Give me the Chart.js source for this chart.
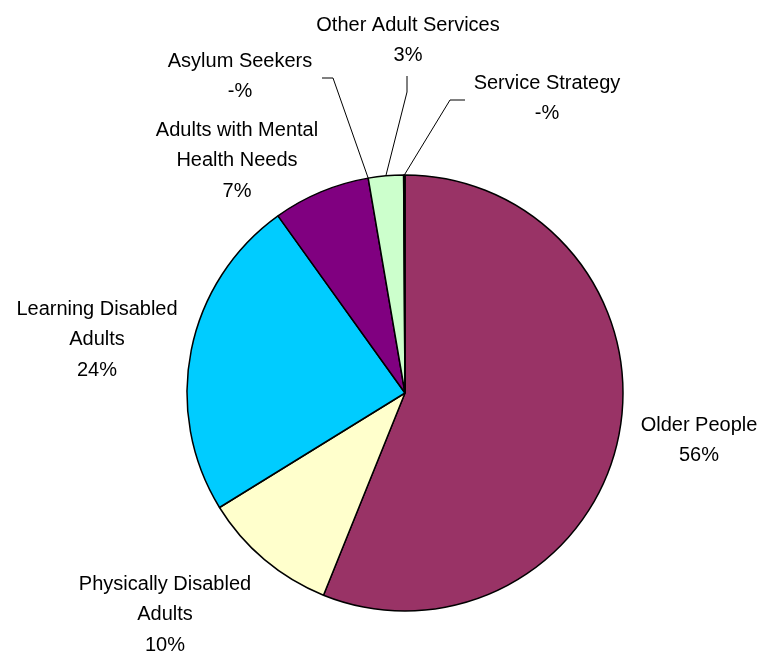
<!DOCTYPE html>
<html>
<head>
<meta charset="utf-8">
<script src="https://cdn.jsdelivr.net/npm/chart.js@4/dist/chart.umd.min.js"></script>
<style>
  html, body { margin: 0; padding: 0; background: #fff; }
  #wrap { width: 763px; height: 652px; }
</style>
</head>
<body>
<div id="wrap"><canvas id="pieChart"></canvas></div>
<script>
// data (percent of total)
const categories = [
    ['Older People'],
    ['Physically Disabled', 'Adults'],
    ['Learning Disabled', 'Adults'],
    ['Adults with Mental', 'Health Needs'],
    ['Asylum Seekers'],
    ['Other Adult Services'],
    ['Service Strategy']
];
const shares = [56.1, 10.1, 23.9, 7.2, 0.0, 2.6, 0.1];
const sliceColors = ['#993366', '#FFFFCC', '#00CCFF', '#800080', '#0066CC', '#CCFFCC', '#9999FF'];

// where each label block sits (centre of its first line) + leader elbows
const labelSpots = [
    { x: 699, y: 425 },
    { x: 165, y: 584 },
    { x: 97, y: 309 },
    { x: 237, y: 130 },
    { x: 240, y: 61, leader: [[322, 78], [333, 78]] },
    { x: 408, y: 25, leader: [[407, 76], [407, 92]] },
    { x: 547, y: 83, leader: [[465, 100], [450, 100]] }
];

function pctText(v) {
    const r = Math.round(v);
    return r === 0 ? '-%' : r + '%';
}

const outsideLabels = {
    id: 'outsideLabels',
    afterDatasetsDraw(chart) {
        const ctx = chart.ctx;
        const arcs = chart.getDatasetMeta(0).data;
        ctx.save();
        ctx.font = '20px "Liberation Sans", Arial, sans-serif';
        ctx.fillStyle = '#000';
        ctx.textAlign = 'center';
        ctx.textBaseline = 'middle';
        labelSpots.forEach((spot, i) => {
            const lines = categories[i].concat([pctText(shares[i])]);
            lines.forEach((t, k) => ctx.fillText(t, spot.x, spot.y + k * 30.5));
            if (spot.leader) {
                const a = arcs[i];
                const mid = (a.startAngle + a.endAngle) / 2;
                const ex = a.x + Math.cos(mid) * a.outerRadius;
                const ey = a.y + Math.sin(mid) * a.outerRadius;
                ctx.beginPath();
                ctx.strokeStyle = '#000';
                ctx.lineWidth = 1;
                ctx.moveTo(spot.leader[0][0], spot.leader[0][1]);
                ctx.lineTo(spot.leader[1][0], spot.leader[1][1]);
                ctx.lineTo(ex, ey);
                ctx.stroke();
            }
        });
        ctx.restore();
    }
};

document.addEventListener('DOMContentLoaded', function() {
    const ctx = document.getElementById('pieChart').getContext('2d');
    new Chart(ctx, {
        type: 'pie',
        data: {
            labels: categories,
            datasets: [{
                data: shares,
                backgroundColor: sliceColors,
                borderColor: '#000',
                borderWidth: 1.5
            }]
        },
        options: {
            responsive: true,
            maintainAspectRatio: false,
            animation: false,
            radius: 218,
            layout: { padding: { left: 187, right: 140, top: 175, bottom: 41 } },
            plugins: {
                legend: { display: false },
                tooltip: { enabled: false }
            }
        },
        plugins: [outsideLabels]
    });
});
</script>
</body>
</html>
